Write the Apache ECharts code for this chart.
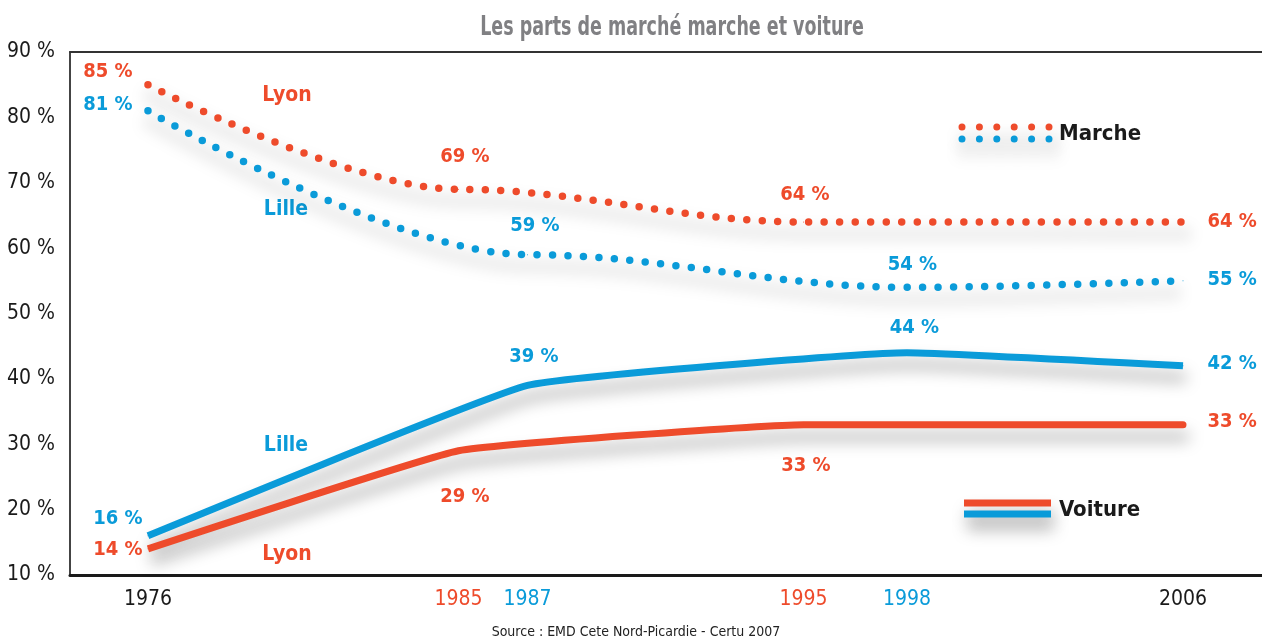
<!DOCTYPE html>
<html>
<head>
<meta charset="utf-8">
<script src="https://cdn.jsdelivr.net/npm/echarts@6/dist/echarts.min.js"></script>
<style>
html,body{margin:0;padding:0;background:#fff;}
#chart{width:1262px;height:639px;}
</style>
</head>
<body>
<div id="chart"></div>
<script>
// ---- data ----
const lyonYears = [1976, 1985, 1995, 2006];
const lilleYears = [1976, 1987, 1998, 2006];
const lyonMarche = [85, 69, 64, 64];
const lilleMarche = [81, 59, 54, 55];
const lyonVoiture = [14, 29, 33, 33];
const lilleVoiture = [16, 39, 44, 42];
const xTickYears = [1976, 1985, 1987, 1995, 1998, 2006];
const yTicks = [10, 20, 30, 40, 50, 60, 70, 80, 90];
const titleText = 'Les parts de marché marche et voiture';
const sourceText = 'Source : EMD Cete Nord-Picardie - Certu 2007';

// ---- styles ----
const ORANGE = '#ee4b2b';
const BLUE = '#0a9bd9';
const FONT = "'DejaVu Sans Condensed', 'Liberation Sans Narrow', sans-serif";
const SHADOW = { shadowColor: 'rgba(0,0,0,0.36)', shadowBlur: 16, shadowOffsetY: 12, shadowOffsetX: 3 };

// label placement per point, pixel shift from the point (style only)
const R = 'right', L = 'left', C = 'center';
const lyonMarcheLbl = [[-15, -12, R], [7, -32, C], [2, -27, C], [25, 0, L]];
const lilleMarcheLbl = [[-15, -6, R], [8, -28, C], [6, -22, C], [25, -1, L]];
const lilleVoitureLbl = [[-5, -16, R], [7, -28, C], [8, -24, C], [25, -2, L]];
const lyonVoitureLbl = [[-5, 1, R], [7, 47, C], [3, 42, C], [25, -2, L]];

function buildData(xs, ys, lbls, color) {
  return xs.map((x, i) => ({
    value: [x, ys[i]],
    label: {
      show: true, color: color, fontFamily: FONT, fontWeight: 'bold', fontSize: 20,
      position: [lbls[i][0], lbls[i][1]], align: lbls[i][2], verticalAlign: 'middle',
      formatter: (p) => p.value[1] + ' %'
    }
  }));
}

function dottedSeries(name, xs, ys, lbls, color) {
  return {
    name: name, type: 'line', smooth: 0.35, smoothMonotone: 'x',
    symbol: 'circle', symbolSize: 1, showAllSymbol: true,
    itemStyle: { color: color },
    data: buildData(xs, ys, lbls, color),
    lineStyle: Object.assign({ color: color, width: 7.5, type: [0, 15.5], cap: 'round' }, SHADOW),
    labelLayout: { hideOverlap: false }, z: 3
  };
}
function solidSeries(name, xs, ys, lbls, color) {
  return {
    name: name, type: 'line', smooth: 0.1,
    symbol: 'circle', symbolSize: 1, showAllSymbol: true,
    itemStyle: { color: color },
    data: buildData(xs, ys, lbls, color),
    lineStyle: Object.assign({ color: color, width: 7, cap: 'butt' }, SHADOW),
    labelLayout: { hideOverlap: false }, z: 3
  };
}

const chart = echarts.init(document.getElementById('chart'));

const annot = (text, color, x, y) => ({
  type: 'text', x: x, y: y,
  style: { text: text, fill: color, font: "bold 21px " + FONT, align: 'center', verticalAlign: 'middle' }
});

const option = {
  backgroundColor: '#ffffff',
  animation: false,
  grid: { left: 70, right: 0, top: 52, bottom: 64, containLabel: false },
  xAxis: [
    {
      type: 'value', min: 1973.74, max: 2008.29,
      axisLine: { show: true, lineStyle: { color: '#1a1a1a', width: 3 } },
      axisTick: { show: false }, splitLine: { show: false },
      axisLabel: {
        customValues: xTickYears, margin: 14,
        formatter: (v) => {
          if (lyonYears.includes(v) && lilleYears.includes(v)) return '{k|' + v + '}';
          if (lyonYears.includes(v)) return '{o|' + v + '}';
          return '{b|' + v + '}';
        },
        rich: {
          k: { color: '#1a1a1a', fontFamily: FONT, fontSize: 21 },
          o: { color: ORANGE, fontFamily: FONT, fontSize: 21 },
          b: { color: BLUE, fontFamily: FONT, fontSize: 21 }
        }
      }
    },
    {
      type: 'value', position: 'top', min: 1973.74, max: 2008.29,
      axisLine: { show: true, lineStyle: { color: '#333', width: 2 } },
      axisTick: { show: false }, axisLabel: { show: false }, splitLine: { show: false }
    }
  ],
  yAxis: {
    type: 'value', min: 10, max: 90, interval: 10,
    axisLine: { show: true, lineStyle: { color: '#444', width: 2 } },
    axisTick: { show: false }, splitLine: { show: false },
    axisLabel: {
      customValues: yTicks, margin: 15, color: '#1a1a1a', fontFamily: FONT, fontSize: 21,
      formatter: (v) => v + ' %'
    }
  },
  series: [
    dottedSeries('Lyon marche', lyonYears, lyonMarche, lyonMarcheLbl, ORANGE),
    dottedSeries('Lille marche', lilleYears, lilleMarche, lilleMarcheLbl, BLUE),
    solidSeries('Lille voiture', lilleYears, lilleVoiture, lilleVoitureLbl, BLUE),
    solidSeries('Lyon voiture', lyonYears, lyonVoiture, lyonVoitureLbl, ORANGE)
  ],
  graphic: [
    { type: 'text', x: 672, y: 28, scaleX: 0.72,
      style: { text: titleText, fill: '#808083', font: 'bold 27px ' + FONT, align: 'center', verticalAlign: 'middle' } },
    annot('Lyon', ORANGE, 287, 96),
    annot('Lille', BLUE, 286, 210),
    annot('Lille', BLUE, 286, 446),
    annot('Lyon', ORANGE, 287, 555),
    // legend: Marche
    { type: 'line', shape: { x1: 962, y1: 127, x2: 1054, y2: 127 },
      style: Object.assign({ stroke: ORANGE, lineWidth: 7, lineDash: [0, 17.4], lineCap: 'round' }, SHADOW) },
    { type: 'line', shape: { x1: 962, y1: 139, x2: 1054, y2: 139 },
      style: Object.assign({ stroke: BLUE, lineWidth: 7, lineDash: [0, 17.4], lineCap: 'round' }, SHADOW) },
    { type: 'text', x: 1059, y: 134,
      style: { text: 'Marche', fill: '#1a1a1a', font: 'bold 22px ' + FONT, verticalAlign: 'middle' } },
    // legend: Voiture
    { type: 'line', shape: { x1: 964, y1: 503, x2: 1051, y2: 503 },
      style: Object.assign({ stroke: ORANGE, lineWidth: 7 }, SHADOW) },
    { type: 'line', shape: { x1: 964, y1: 514, x2: 1051, y2: 514 },
      style: Object.assign({ stroke: BLUE, lineWidth: 7 }, SHADOW) },
    { type: 'text', x: 1059, y: 510,
      style: { text: 'Voiture', fill: '#1a1a1a', font: 'bold 22px ' + FONT, verticalAlign: 'middle' } },
    // source
    { type: 'text', x: 636, y: 632,
      style: { text: sourceText, fill: '#222', font: '14px ' + FONT, align: 'center', verticalAlign: 'middle' } }
  ]
};
chart.setOption(option);
</script>
</body>
</html>
